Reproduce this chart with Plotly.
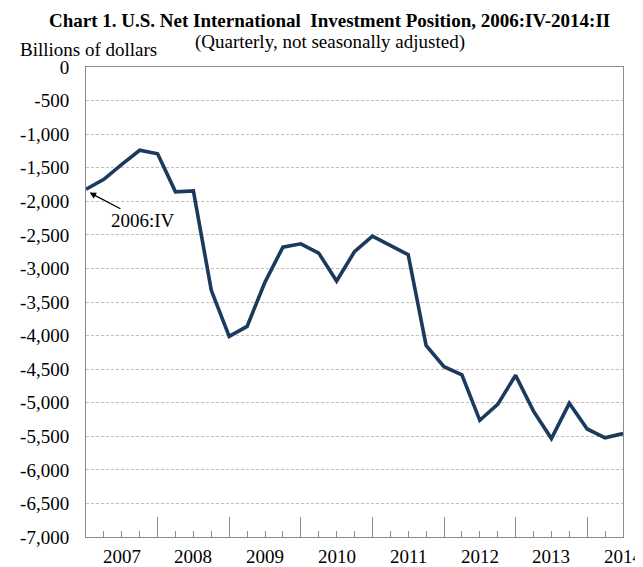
import plotly.graph_objects as go

# ---------------- data ----------------
quarters = [
    "2006:IV",
    "2007:I", "2007:II", "2007:III", "2007:IV",
    "2008:I", "2008:II", "2008:III", "2008:IV",
    "2009:I", "2009:II", "2009:III", "2009:IV",
    "2010:I", "2010:II", "2010:III", "2010:IV",
    "2011:I", "2011:II", "2011:III", "2011:IV",
    "2012:I", "2012:II", "2012:III", "2012:IV",
    "2013:I", "2013:II", "2013:III", "2013:IV",
    "2014:I", "2014:II",
]
niip = [
    -1820,
    -1672, -1449, -1240, -1293,
    -1859, -1846, -3327, -4012,
    -3863, -3203, -2683, -2633,
    -2772, -3188, -2750, -2519,
    -2658, -2796, -4146, -4463,
    -4585, -5262, -5024, -4592,
    -5125, -5534, -5009, -5391,
    -5522, -5460,
]
years = ["2007", "2008", "2009", "2010", "2011", "2012", "2013", "2014"]
y_tickvals = [0, -500, -1000, -1500, -2000, -2500, -3000, -3500, -4000,
              -4500, -5000, -5500, -6000, -6500, -7000]
y_ticktext = ["0", "-500", "-1,000", "-1,500", "-2,000", "-2,500", "-3,000",
              "-3,500", "-4,000", "-4,500", "-5,000", "-5,500", "-6,000",
              "-6,500", "-7,000"]

title_text = "Chart 1. U.S. Net International  Investment Position, 2006:IV-2014:II"
subtitle_text = "(Quarterly, not seasonally adjusted)"
unit_text = "Billions of dollars"
start_label = "2006:IV"

# ---------------- derived positions ----------------
xpos = list(range(len(quarters)))
year_pos = [quarters.index(y + ":II") for y in years]
year_bounds = [i for i, q in enumerate(quarters) if q.endswith(":IV") and i > 0]

FONT = "Liberation Serif, Times New Roman, serif"
GRAY = "#8C8C8C"

fig = go.Figure()
fig.add_trace(go.Scatter(
    x=xpos, y=niip, mode="lines",
    line=dict(color="#1B3A5E", width=3.6),
    text=quarters, hovertemplate="%{text}: %{y:,}<extra></extra>",
    showlegend=False,
))

# the page body adds an 8px margin, so the figure is sized/placed to compensate
fig.update_layout(
    width=635, height=559,
    margin=dict(l=70, r=20, t=59, b=30),
    paper_bgcolor="white", plot_bgcolor="white",
    font=dict(family=FONT, size=19, color="black"),
    xaxis=dict(
        range=[0, len(quarters) - 1],
        showgrid=False, zeroline=False,
        showline=True, linecolor=GRAY, linewidth=1, mirror=True,
        tickmode="array", tickvals=year_bounds, showticklabels=False,
        ticks="inside", ticklen=20, tickcolor=GRAY, tickwidth=1,
        minor=dict(tickmode="array", tickvals=xpos, ticks="inside",
                   ticklen=6, tickcolor=GRAY, tickwidth=1, showgrid=False),
    ),
    yaxis=dict(
        range=[-7000, 0],
        tickmode="array", tickvals=y_tickvals, ticktext=y_ticktext,
        showgrid=True, gridcolor="#BFBFBF", gridwidth=1, griddash="3px,2px",
        zeroline=False,
        showline=True, linecolor=GRAY, linewidth=1, mirror=True,
        ticks="outside", ticklen=12, tickcolor="rgba(0,0,0,0)",
        tickfont=dict(family=FONT, size=19, color="black"),
    ),
)

# year labels under the axis
for yr, pos in zip(years, year_pos):
    fig.add_annotation(x=pos, y=-0.041, xref="x", yref="paper", text=yr,
                       showarrow=False, xanchor="center", yanchor="middle",
                       borderpad=0,
                       font=dict(family=FONT, size=19, color="black"))

# titles
fig.add_annotation(x=0.454, y=1.098, xref="paper", yref="paper",
                   text="<b>" + title_text + "</b>", showarrow=False,
                   xanchor="center", yanchor="middle",
                   font=dict(family=FONT, size=19, color="black"))
fig.add_annotation(x=0.454, y=1.053, xref="paper", yref="paper",
                   text=subtitle_text, showarrow=False,
                   xanchor="center", yanchor="middle",
                   font=dict(family=FONT, size=19, color="black"))
fig.add_annotation(x=-0.125, y=1.037, xref="paper", yref="paper",
                   text=unit_text, showarrow=False,
                   xanchor="left", yanchor="middle", borderpad=0,
                   font=dict(family=FONT, size=19, color="black"))

# 2006:IV callout
fig.add_annotation(x=0.2, y=niip[0] - 50, xref="x", yref="y",
                   ax=3.2, ay=-2290, axref="x", ayref="y",
                   text=start_label, showarrow=True,
                   arrowhead=2, arrowsize=1, arrowwidth=1.3, arrowcolor="black",
                   font=dict(family=FONT, size=19, color="black"))

fig.write_html("out.html")
